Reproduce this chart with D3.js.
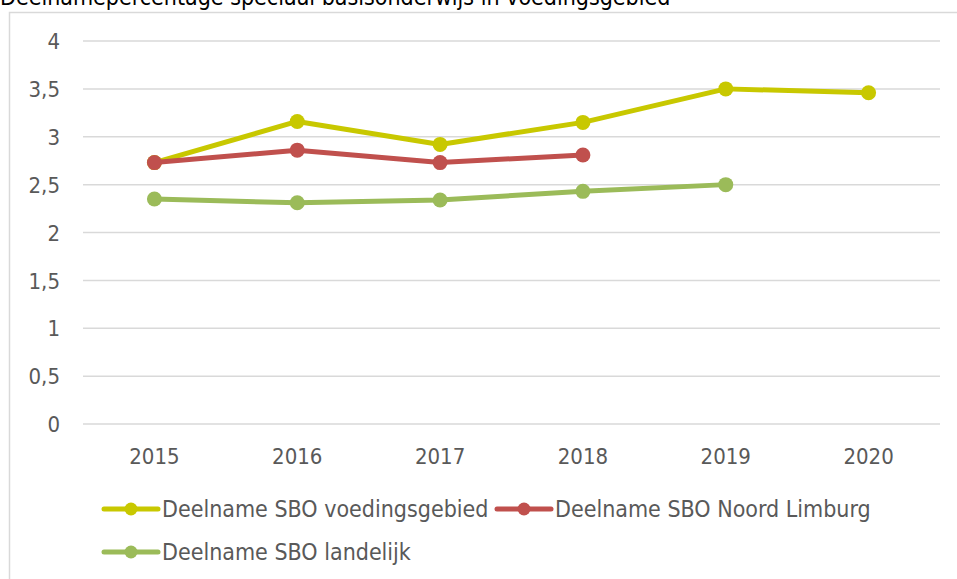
<!DOCTYPE html>
<html>
<head>
<meta charset="utf-8">
<script src="https://cdn.jsdelivr.net/npm/d3@7"></script>
<style>
    body { margin: 0; background: #fff; overflow: hidden; }
    svg { display: block; }
    svg text { font-family: "DejaVu Sans Condensed", "DejaVu Sans", sans-serif; fill: #595959; }
</style>
</head>
<body>
<script>
const jaren = ['2015', '2016', '2017', '2018', '2019', '2020'];
const voedingsgebied = [2.73, 3.16, 2.92, 3.15, 3.50, 3.46];
const noordLimburg = [2.73, 2.86, 2.73, 2.81];
const landelijk = [2.35, 2.31, 2.34, 2.43, 2.50];
const yTicks = [0, 0.5, 1, 1.5, 2, 2.5, 3, 3.5, 4];

const series = [
    { naam: 'Deelname SBO voedingsgebied', waarden: voedingsgebied, kleur: '#c8c800' },
    { naam: 'Deelname SBO Noord Limburg', waarden: noordLimburg, kleur: '#c0504d' },
    { naam: 'Deelname SBO landelijk', waarden: landelijk, kleur: '#9bbb59' }
];

const width = 957;
const height = 579;

const svg = d3.select('body').append('svg')
    .attr('width', width)
    .attr('height', height);

// titel (bovenkant valt buiten beeld)
svg.append('text')
    .attr('x', 0)
    .attr('y', 5)
    .style('font-size', '23px')
    .style('fill', '#000')
    .text('Deelnamepercentage speciaal basisonderwijs in voedingsgebied');

// rand van de grafiek
svg.append('rect')
    .attr('x', 9.5)
    .attr('y', 12.5)
    .attr('width', 1000)
    .attr('height', 600)
    .attr('fill', 'none')
    .attr('stroke', '#d9d9d9')
    .attr('stroke-width', 1.5);

const margin = { top: 41, left: 83, right: 17, bottom: 155 };
const innerWidth = width - margin.left - margin.right;
const innerHeight = 424 - margin.top;

const xScale = d3.scaleBand()
    .domain(jaren)
    .range([0, innerWidth]);

const yScale = d3.scaleLinear()
    .domain([0, 4])
    .range([innerHeight, 0]);

const g = svg.append('g')
    .attr('transform', `translate(${margin.left}, ${margin.top})`);

// rasterlijnen
g.append('g')
    .selectAll('line')
    .data(yTicks)
    .enter()
    .append('line')
    .attr('x1', 0)
    .attr('x2', innerWidth)
    .attr('y1', d => yScale(d))
    .attr('y2', d => yScale(d))
    .attr('stroke', '#d9d9d9')
    .attr('stroke-width', 1.5);

const fmt = d => String(d).replace('.', ',');

// y-as
const yAxis = g.append('g')
    .call(d3.axisLeft(yScale).tickValues(yTicks).tickFormat(fmt).tickSize(0).tickPadding(23));
yAxis.select('.domain').remove();
yAxis.selectAll('text').style('font-size', '22px').attr('dy', '0.35em');

// x-as
const xAxis = g.append('g')
    .attr('transform', `translate(0, ${innerHeight})`)
    .call(d3.axisBottom(xScale).tickSize(0).tickPadding(24));
xAxis.select('.domain').remove();
xAxis.selectAll('text').style('font-size', '22px');

const xPos = i => xScale(jaren[i]) + xScale.bandwidth() / 2;

const line = d3.line()
    .x((d, i) => xPos(i))
    .y(d => yScale(d));

series.forEach(s => {
    g.append('path')
        .datum(s.waarden)
        .attr('fill', 'none')
        .attr('stroke', s.kleur)
        .attr('stroke-width', 5)
        .attr('stroke-linejoin', 'round')
        .attr('stroke-linecap', 'round')
        .attr('d', line);

    g.selectAll(null)
        .data(s.waarden)
        .enter()
        .append('circle')
        .attr('cx', (d, i) => xPos(i))
        .attr('cy', d => yScale(d))
        .attr('r', 7.5)
        .attr('fill', s.kleur);
});

// legenda
const legendPos = [
    { x: 102, y: 509 },
    { x: 495, y: 509 },
    { x: 102, y: 552 }
];

const legend = svg.append('g')
    .selectAll('g')
    .data(series)
    .enter()
    .append('g')
    .attr('transform', (d, i) => `translate(${legendPos[i].x}, ${legendPos[i].y})`);

legend.append('line')
    .attr('x1', 2)
    .attr('x2', 56)
    .attr('stroke', d => d.kleur)
    .attr('stroke-width', 5)
    .attr('stroke-linecap', 'round');

legend.append('circle')
    .attr('cx', 29)
    .attr('r', 6.5)
    .attr('fill', d => d.kleur);

legend.append('text')
    .attr('x', 60)
    .attr('dy', '0.35em')
    .style('font-size', '23px')
    .text(d => d.naam);
</script>
</body>
</html>
